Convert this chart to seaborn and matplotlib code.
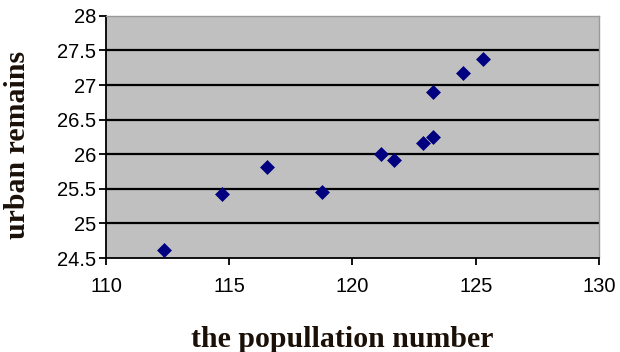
import matplotlib
matplotlib.use("Agg")
import matplotlib.pyplot as plt
import seaborn as sns
import pandas as pd

# population number vs. urban remains
population = [112.35, 114.7, 116.55, 118.75, 121.15, 121.7, 122.85, 123.25, 123.25, 124.5, 125.3]
urban_remains = [24.62, 25.43, 25.82, 25.46, 26.0, 25.91, 26.16, 26.25, 26.90, 27.18, 27.38]

x_ticks = [110, 115, 120, 125, 130]
y_ticks = [24.5, 25, 25.5, 26, 26.5, 27, 27.5, 28]

df = pd.DataFrame({"population": population, "urban": urban_remains})

sns.set_style("white")
plt.rcParams["font.family"] = ["Liberation Sans", "DejaVu Sans"]

fig = plt.figure(figsize=(6.2, 3.52), dpi=100)
ax = fig.add_axes([0.171, 0.267, 0.795, 0.688])
ax.set_facecolor("#C0C0C0")

for y in y_ticks[1:-1]:
    ax.axhline(y, color="black", lw=1.6, zorder=1)

sns.scatterplot(data=df, x="population", y="urban", marker="D", s=50,
                color="#000080", edgecolor="#000080", linewidth=0.5,
                ax=ax, zorder=3, clip_on=False)

ax.set_xlim(110, 130)
ax.set_ylim(24.5, 28)
ax.set_xticks(x_ticks)
ax.set_yticks(y_ticks)
ax.set_xticklabels([str(v) for v in x_ticks])
ax.set_yticklabels([f"{v:g}" for v in y_ticks])

for side in ("left", "bottom"):
    ax.spines[side].set_color("black")
    ax.spines[side].set_linewidth(1.3)
for side in ("top", "right"):
    ax.spines[side].set_color("#9a9a9a")
    ax.spines[side].set_linewidth(1.0)

ax.tick_params(axis="both", which="major", labelsize=14.5, colors="black",
               length=5, width=1.3, direction="out", left=True, bottom=True)
ax.tick_params(axis="x", pad=9)
ax.tick_params(axis="y", pad=2)

label_font = dict(family=["Liberation Serif", "DejaVu Serif"], weight="bold",
                  size=21.5, color="#1a1008")
ax.set_xlabel("the popullation number", labelpad=21, **label_font)
ax.xaxis.label.set_x(0.48)
ax.set_ylabel("urban remains", **label_font)
ax.yaxis.set_label_coords(-0.152, 0.467)

fig.savefig("out.png", dpi=100)
